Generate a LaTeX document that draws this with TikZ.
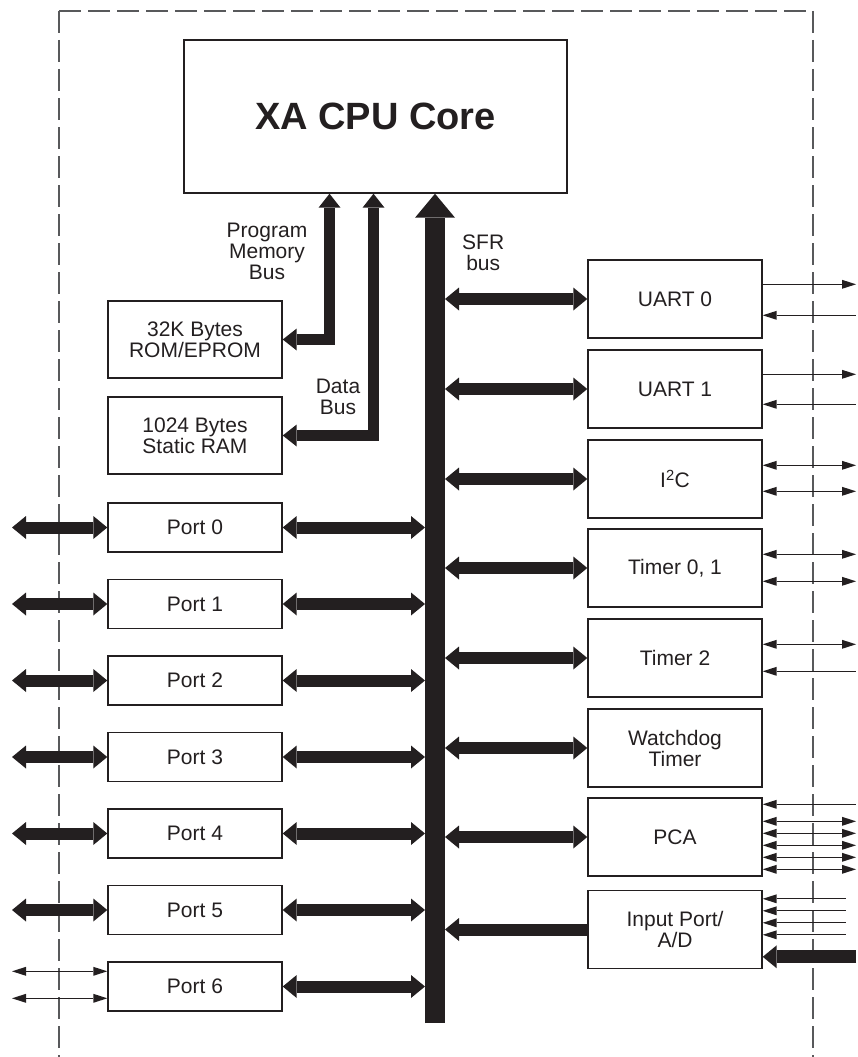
\documentclass[tikz,border=0pt]{standalone}
\usepackage{fontspec}
\setmainfont{Liberation Sans}
\usetikzlibrary{arrows.meta, calc}
\definecolor{ink}{HTML}{231F20}
\definecolor{frame}{HTML}{58595B}

\begin{document}
\begin{tikzpicture}[x=1pt, y=-1pt,
    box/.style={draw=ink, line width=1.4pt, inner sep=0pt, align=center, text=ink,
        font=\fontsize{21}{21}\selectfont},
    rbox/.style={box, minimum width=174pt, minimum height=78pt},
    pbox/.style={box, minimum width=174pt, minimum height=49pt},
    lbl/.style={inner sep=0pt, align=center, text=ink, font=\fontsize{21}{21}\selectfont},
    big/.tip={Triangle[width=23pt, length=14pt, line width=0pt]},
    huge/.tip={Triangle[width=40pt, length=24pt, line width=0pt]},
    mid/.tip={Triangle[width=22pt, length=14pt, line width=0pt]},
    sm/.tip={Triangle[width=9pt, length=14pt, line width=0pt]},
    wbus/.style={draw=ink, line width=12pt, big-big},
    wbusin/.style={draw=ink, line width=12pt, -big},
    membus/.style={draw=ink, line width=11pt, mid-mid},
    sout/.style={draw=ink, line width=0.8pt, -sm},
    sin/.style={draw=ink, line width=0.8pt, sm-},
    sboth/.style={draw=ink, line width=0.8pt, sm-sm}]

    \useasboundingbox (0,0) rectangle (857,1057);

    % Draw the chip outline
    \draw[frame, line width=1.2pt, dash pattern=on 22pt off 7pt] (59,11) -- (59,1057);
    \draw[frame, line width=1.2pt, dash pattern=on 22pt off 7pt] (59,11) -- (813,11) -- (813,1057);

    % Core and memories
    \node[box, minimum width=383pt, minimum height=153pt,
        font=\fontsize{38}{38}\selectfont\bfseries] (cpu) at (375.5,116.5) {XA CPU Core};
    \node[rbox, minimum height=77pt] (rom) at (195,339.5) {32K Bytes\\ROM/EPROM};
    \node[rbox, minimum height=77pt] (ram) at (195,435.5) {1024 Bytes\\Static RAM};

    % Peripherals
    \node[rbox] (u0) at (675,299) {UART 0};
    \node[rbox] (u1) at (675,389) {UART 1};
    \node[rbox] (i2c) at (675,479) {I\textsuperscript{2}C};
    \node[rbox] (t01) at (675,568) {Timer 0, 1};
    \node[rbox] (t2) at (675,658) {Timer 2};
    \node[rbox] (wdt) at (675,748) {Watchdog\\Timer};
    \node[rbox] (pca) at (675,837) {PCA};
    \node[rbox] (inp) at (675,929.5) {Input Port/\\A/D};

    % Ports
    \foreach \i in {0,...,6} {
        \node[pbox] (p\i) at (195,527.5+76.5*\i) {Port \i};
    }

    % Bus ends and chip edges
    \coordinate (sfrbot) at (435,1023);
    \coordinate (sfrL) at (425,0);
    \coordinate (sfrR) at (445,0);
    \coordinate (pmb) at (329.5,0);
    \coordinate (dmb) at (373.5,0);
    \coordinate (edgeL) at (12,0);
    \coordinate (edgeR) at (856,0);

    % Draw the buses
    \draw[draw=ink, line width=20pt, -huge] (sfrbot) -- (sfrbot |- cpu.south);
    \draw[membus] (cpu.south -| pmb) |- (rom.east);
    \draw[membus] (cpu.south -| dmb) |- (ram.east);

    % Bus labels
    \node[lbl] (pmblbl) at (267,251) {Program\\Memory\\Bus};
    \node[lbl] (dmblbl) at (338,397) {Data\\Bus};
    \node[lbl, anchor=west] (sfrlbl) at (462,253) {SFR\\bus};

    % Ports to SFR bus and outside
    \foreach \i in {0,...,6} {
        \draw[wbus] (p\i.east) -- (p\i.east -| sfrL);
    }
    \foreach \i in {0,...,5} {
        \draw[wbus] (p\i.west -| edgeL) -- (p\i.west);
    }
    \foreach \o in {10,37} {
        \draw[sboth] ([yshift=-\o pt]p6.north west -| edgeL) -- ([yshift=-\o pt]p6.north west);
    }

    % Peripherals to SFR bus
    \foreach \b in {u0,u1,i2c,t01,t2,wdt,pca} {
        \draw[wbus] (\b.west -| sfrR) -- (\b.west);
    }
    \draw[wbusin] (inp.west) -- (inp.west -| sfrR);

    % Peripheral pins
    \foreach \b/\o/\s in {u0/25/sout, u0/56/sin, u1/25/sout, u1/55/sin,
        i2c/26/sboth, i2c/52/sboth, t01/26/sboth, t01/53/sboth,
        t2/26/sboth, t2/53/sin, pca/7/sin, pca/24/sboth, pca/36/sboth,
        pca/48/sboth, pca/60/sboth, pca/72/sboth} {
        \draw[\s] ([yshift=-\o pt]\b.north east) -- ([yshift=-\o pt]\b.north east -| edgeR);
    }
    \foreach \o in {9,21,33,45} {
        \draw[sin] ([yshift=-\o pt]inp.north east) -- ++(83,0);
    }
    \draw[draw=ink, line width=13pt, -big] ([yshift=-67pt]inp.north east -| edgeR) -- ([yshift=-67pt]inp.north east);
\end{tikzpicture}
\end{document}
